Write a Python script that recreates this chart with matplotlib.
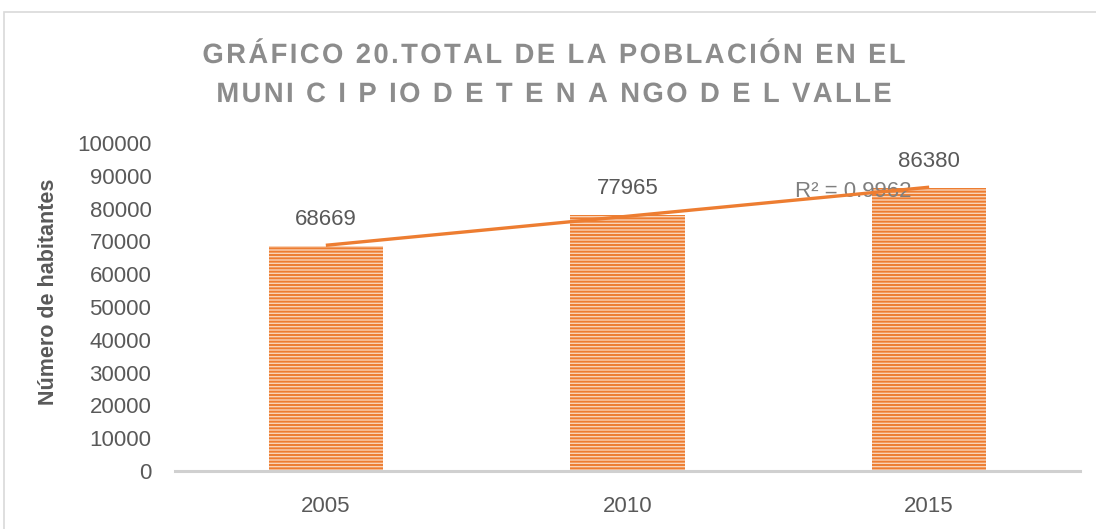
import numpy as np
import matplotlib.pyplot as plt
from matplotlib.patches import Rectangle, PathPatch
from matplotlib.textpath import TextPath, TextToPath
from matplotlib.font_manager import FontProperties
from matplotlib.transforms import Affine2D
from matplotlib.path import Path

# Population data
years = ["2005", "2010", "2015"]
population = [68669, 77965, 86380]
r2_label = "R² = 0.9962"
yticks = [0, 10000, 20000, 30000, 40000, 50000, 60000, 70000, 80000, 90000, 100000]

title_lines = ["GRÁFICO 20.TOTAL DE LA POBLACIÓN EN EL",
               "MUNI C I P IO D E T E N A NGO D E L VALLE"]

orange = "#ed7d31"
gray_txt = "#595959"

plt.rcParams['font.family'] = ['Liberation Sans', 'DejaVu Sans']
plt.rcParams['hatch.linewidth'] = 1.4
plt.rcParams['hatch.color'] = orange

W, H = 1096, 529
fig = plt.figure(figsize=(W / 100, H / 100), dpi=100)
fig.patches.append(Rectangle((4 / W, -0.05), 1.2, 1 - 12 / H + 0.05,
                             transform=fig.transFigure, fill=False,
                             edgecolor="#d9d9d9", linewidth=1.2))

ax = fig.add_axes([175 / W, 1 - 471 / H, 905 / W, 328 / H])
x = np.arange(len(years))

ax.bar(x, population, width=0.38, color="#f9d3b7", edgecolor=orange,
       hatch="-----", linewidth=0, zorder=2)

for xi, v in zip(x, population):
    ax.annotate(str(v), (xi, v), xytext=(0, 19), textcoords="offset points",
                ha="center", va="center", fontsize=16, color=gray_txt)

# Linear trend line
coef = np.polyfit(x, population, 1)
ax.plot(x, np.polyval(coef, x), color=orange, linewidth=2.4, zorder=4,
        solid_capstyle="butt")
ax.text(1.555, np.polyval(coef, 1.555) + 2600, r2_label, fontsize=16,
        color="#7f7f7f", ha="left", va="center", zorder=3)

ax.set_xlim(-0.5, 2.5)
ax.set_ylim(0, 100000)
ax.set_xticks(x)
ax.set_xticklabels(years)
ax.set_yticks(yticks)
ax.tick_params(axis="both", length=0, labelsize=16, labelcolor=gray_txt)
ax.tick_params(axis="x", pad=18)
ax.tick_params(axis="y", pad=17)
for s in ["top", "right", "left"]:
    ax.spines[s].set_visible(False)
ax.spines["bottom"].set_color("#d0d0d0")
ax.spines["bottom"].set_linewidth(2.2)

fig.text(49 / W, 1 - 292 / H, "Número de habitantes", rotation=90,
         ha="center", va="center", fontsize=15.5, fontweight="bold",
         color=gray_txt)


# Title: bold capitals with extra tracking
def tracked_line(text, cx, cy, em=28, sx=0.98, track=2.4, color="#8c8c8c"):
    prop = FontProperties(family="Liberation Sans", weight="bold")
    t2p = TextToPath()
    verts, codes = [], []
    pen = 0.0
    for ch in text:
        adv = t2p.get_text_width_height_descent(ch, prop, ismath=False)[0]
        adv = adv * em / prop.get_size_in_points()
        if ch != " ":
            p = TextPath((0, 0), ch, size=em, prop=prop)
            v = p.vertices.copy()
            v[:, 0] = v[:, 0] * sx + pen
            verts.append(v)
            codes.append(p.codes)
        pen += adv * sx + track
    pen -= track
    path = Path(np.concatenate(verts), np.concatenate(codes))
    cap = 0.716 * em
    tr = (Affine2D().translate(cx - pen / 2, (H - cy) - cap / 2).scale(1 / 100)
          + fig.dpi_scale_trans)
    fig.patches.append(PathPatch(path, transform=tr, facecolor=color,
                                 edgecolor="none"))


tracked_line(title_lines[0], 554, 53)
tracked_line(title_lines[1], 554, 92)

fig.savefig("out.png", dpi=100)
